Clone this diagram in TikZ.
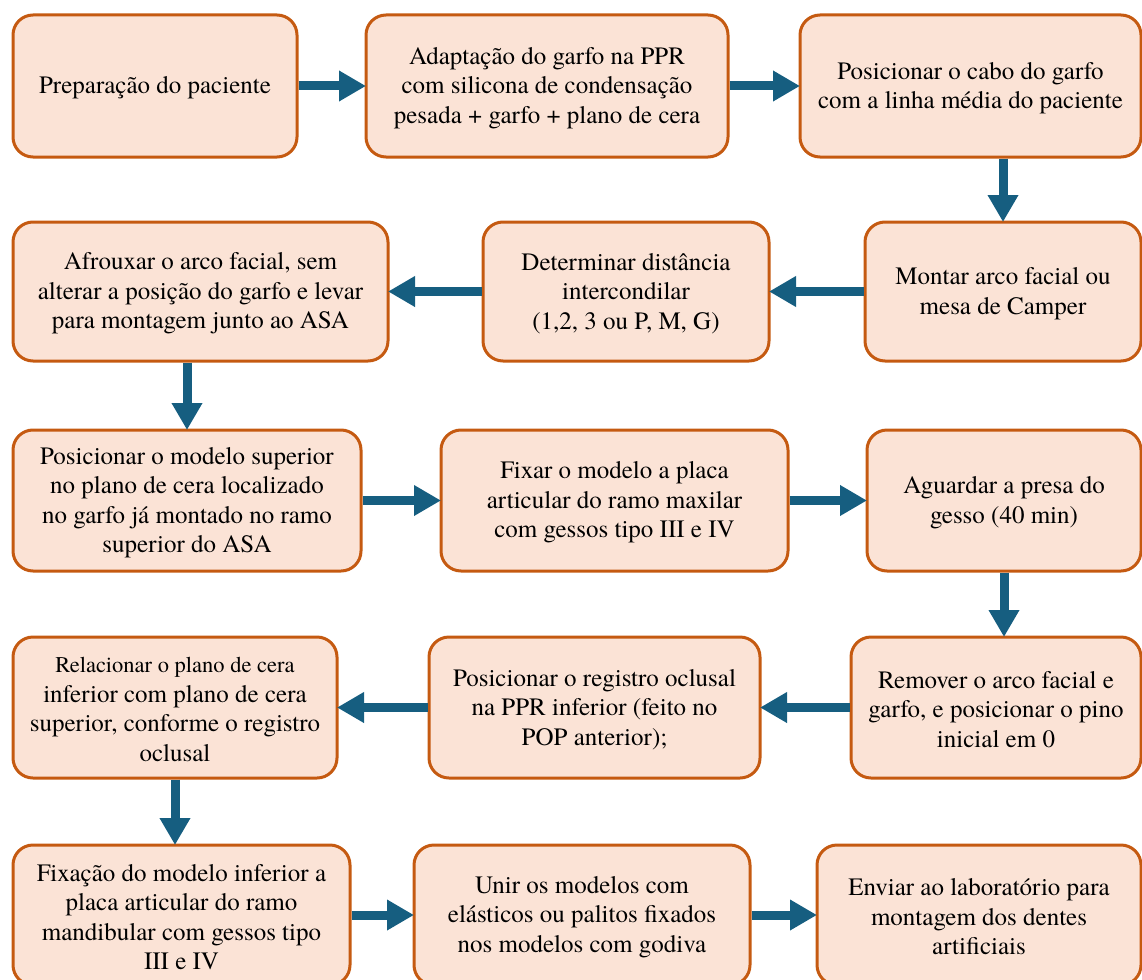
\documentclass[tikz,border=0pt]{standalone}
\usepackage{fontspec}
\setmainfont{texgyretermes-regular.otf}
\usetikzlibrary{arrows.meta}
\definecolor{boxfill}{HTML}{FBE3D6}
\definecolor{boxline}{HTML}{C55A11}
\definecolor{arrowblue}{HTML}{165E80}
\tikzset{
  stepbox/.style={draw=boxline, fill=boxfill, line width=3pt, rounded corners=20pt,
    inner sep=0pt, outer sep=0pt},
  steptext/.style={align=center, inner sep=0pt, font=\fontsize{25pt}{29.5pt}\selectfont},
  flow/.style={draw=arrowblue, line width=9pt, -{Triangle[width=29pt,length=27pt]}, shorten <=1.5pt, shorten >=0pt},
}
\newcommand{\mybox}[6]{% name, left, top, right, bottom, text
  \pgfmathsetmacro{\cx}{(#2+#4)/2}%
  \pgfmathsetmacro{\cy}{(#3+#5)/2}%
  \pgfmathsetmacro{\bw}{#4-#2}%
  \pgfmathsetmacro{\bh}{#5-#3}%
  \node[stepbox, minimum width=\bw pt, minimum height=\bh pt] (#1) at (\cx,\cy) {};%
  \node[steptext] (#1t) at ([yshift=-2pt]#1.center) {#6};%
}
\begin{document}
\begin{tikzpicture}[x=1pt,y=-1pt]
\useasboundingbox (0,0) rectangle (1142,979);
\clip (0,0) rectangle (1142,979);

\mybox{b1}{13}{15}{297}{157}{Preparação do paciente}
\mybox{b2}{366}{15}{728}{157}{Adaptação do garfo na PPR\\com silicona de condensação\\pesada + garfo + plano de cera}
\mybox{b3}{800}{15}{1141}{157}{Posicionar o cabo do garfo\\com a linha média do paciente}
\mybox{b4}{13}{222}{388}{361}{Afrouxar o arco facial, sem\\alterar a posição do garfo e levar\\para montagem junto ao ASA}
\mybox{b5}{483}{222}{769}{361}{Determinar distância\\intercondilar\\(1,2, 3 ou P, M, G)}
\mybox{b6}{865}{222}{1141}{361}{Montar arco facial ou\\mesa de Camper}
\mybox{b7}{13}{430}{361}{571}{Posicionar o modelo superior\\no plano de cera localizado\\no garfo já montado no ramo\\superior do ASA}
\mybox{b8}{441}{430}{788}{571}{Fixar o modelo a placa\\articular do ramo maxilar\\com gessos tipo III e IV}
\mybox{b9}{867}{430}{1141}{571}{Aguardar a presa do\\gesso (40 min)}
\mybox{b10}{13}{637}{337}{778}{\fontsize{22.5pt}{29pt}\selectfont Relacionar o plano de cera\\inferior com plano de cera\\superior, conforme o registro\\oclusal}
\mybox{b11}{429}{637}{760}{778}{Posicionar o registro oclusal\\na PPR inferior (feito no\\POP anterior);}
\mybox{b12}{851}{637}{1141}{778}{Remover o arco facial e\\garfo, e posicionar o pino\\inicial em 0}
\mybox{b13}{13}{845}{350}{985}{Fixação do modelo inferior a\\placa articular do ramo\\mandibular com gessos tipo\\III e IV}
\mybox{b14}{414}{845}{750}{985}{Unir os modelos com\\elásticos ou palitos fixados\\nos modelos com godiva}
\mybox{b15}{817}{845}{1141}{985}{Enviar ao laboratório para\\montagem dos dentes\\artificiais}

\draw[flow] (b1.east) -- (b2.west);
\draw[flow] (b2.east) -- (b3.west);
\draw[flow] (b6.north |- b3.south) -- (b6.north);
\draw[flow] (b6.west) -- (b5.east);
\draw[flow] (b5.west) -- (b4.east);
\draw[flow] (b7.north |- b4.south) -- (b7.north);
\draw[flow] (b7.east) -- (b8.west);
\draw[flow] (b8.east) -- (b9.west);
\draw[flow] (b9.south) -- (b9.south |- b12.north);
\draw[flow] (b12.west) -- (b11.east);
\draw[flow] (b11.west) -- (b10.east);
\draw[flow] (b10.south) -- (b10.south |- b13.north);
\draw[flow] (b13.east) -- (b14.west);
\draw[flow] (b14.east) -- (b15.west);
\end{tikzpicture}
\end{document}
